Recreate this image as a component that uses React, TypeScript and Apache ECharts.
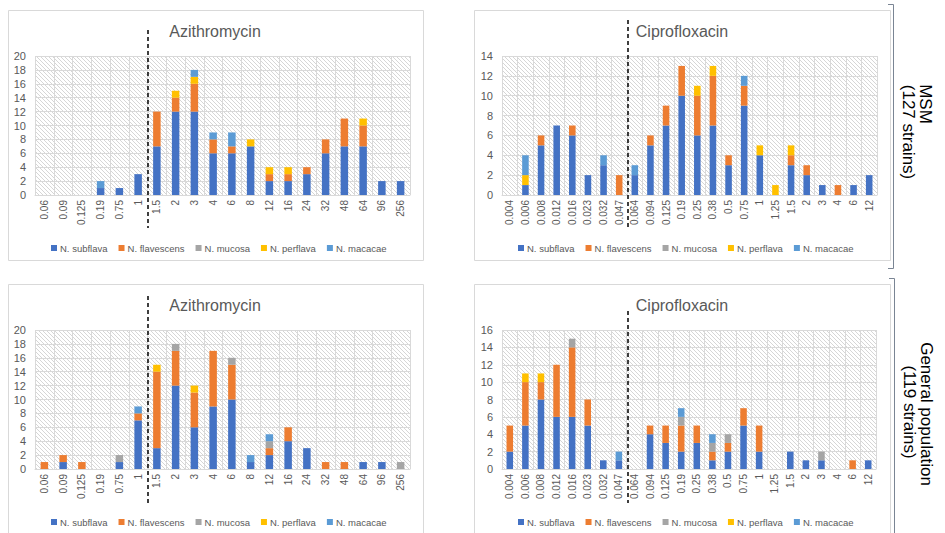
import React, { useEffect, useRef } from "react";
import * as echarts from "echarts";

const azCats = ["0.06","0.09","0.125","0.19","0.75","1","1.5","2","3","4","6","8","12","16","24","32","48","64","96","256"];
const ciCats = ["0.004","0.006","0.008","0.012","0.016","0.023","0.032","0.047","0.064","0.094","0.125","0.19","0.25","0.38","0.5","0.75","1","1.25","1.5","2","3","4","6","12"];

const species = ["N. subflava", "N. flavescens", "N. mucosa", "N. perflava", "N. macacae"];
const colors = ["#4472C4", "#ED7D31", "#A5A5A5", "#FFC000", "#5B9BD5"];

// Azithromycin, MSM
const azMsmSubflava   = [0,0,0,1,1,3,7,12,12,6,6,7,2,2,3,6,7,7,2,2];
const azMsmFlavescens = [0,0,0,0,0,0,5,2,4,2,1,0,1,1,1,2,4,3,0,0];
const azMsmMucosa     = [0,0,0,0,0,0,0,0,0,0,0,0,0,0,0,0,0,0,0,0];
const azMsmPerflava   = [0,0,0,0,0,0,0,1,1,0,0,1,1,1,0,0,0,1,0,0];
const azMsmMacacae    = [0,0,0,1,0,0,0,0,1,1,2,0,0,0,0,0,0,0,0,0];

// Ciprofloxacin, MSM
const ciMsmSubflava   = [0,1,5,7,6,2,3,0,2,5,7,10,6,7,3,9,4,0,3,2,1,0,1,2];
const ciMsmFlavescens = [0,0,1,0,1,0,0,2,0,1,2,3,4,5,1,2,0,0,1,1,0,1,0,0];
const ciMsmMucosa     = [0,0,0,0,0,0,0,0,0,0,0,0,0,0,0,0,0,0,0,0,0,0,0,0];
const ciMsmPerflava   = [0,1,0,0,0,0,0,0,0,0,0,0,1,1,0,0,1,1,1,0,0,0,0,0];
const ciMsmMacacae    = [0,2,0,0,0,0,1,0,1,0,0,0,0,0,0,1,0,0,0,0,0,0,0,0];

// Azithromycin, general population
const azGenSubflava   = [0,1,0,0,1,7,3,12,6,9,10,1,2,4,3,0,0,1,1,0];
const azGenFlavescens = [1,1,1,0,0,1,11,5,5,8,5,0,1,2,0,1,1,0,0,0];
const azGenMucosa     = [0,0,0,0,1,0,0,1,0,0,1,0,1,0,0,0,0,0,0,1];
const azGenPerflava   = [0,0,0,0,0,0,1,0,1,0,0,0,0,0,0,0,0,0,0,0];
const azGenMacacae    = [0,0,0,0,0,1,0,0,0,0,0,1,1,0,0,0,0,0,0,0];

// Ciprofloxacin, general population
const ciGenSubflava   = [2,5,8,6,6,5,1,1,0,4,3,2,3,1,2,5,2,0,2,1,1,0,0,1];
const ciGenFlavescens = [3,5,2,6,8,3,0,0,0,1,2,3,2,1,1,2,3,0,0,0,0,0,1,0];
const ciGenMucosa     = [0,0,0,0,1,0,0,0,0,0,0,1,0,1,1,0,0,0,0,0,1,0,0,0];
const ciGenPerflava   = [0,1,1,0,0,0,0,0,0,0,0,0,0,0,0,0,0,0,0,0,0,0,0,0];
const ciGenMacacae    = [0,0,0,0,0,0,0,1,0,0,0,1,0,1,0,0,0,0,0,0,0,0,0,0];

const yMax = [20, 14, 20, 16];
const titles = ["Azithromycin", "Ciprofloxacin", "Azithromycin", "Ciprofloxacin"];

const FONT = "Liberation Sans";
const GREY = "#595959";
const GRID_LINE = "#d9d9d9";

function makePattern() {
  const c = document.createElement("canvas");
  c.width = 4;
  c.height = 4;
  const ctx = c.getContext("2d")!;
  ctx.fillStyle = "#ffffff";
  ctx.fillRect(0, 0, 4, 4);
  ctx.fillStyle = "#d6d6d6";
  for (let i = 0; i < 4; i++) ctx.fillRect(i, i, 1, 1);
  return { image: c, repeat: "repeat" };
}

export default function App() {
  const ref = useRef<HTMLDivElement>(null);
  useEffect(() => {
    if (!ref.current) return;
    const chart = echarts.init(ref.current, null, { renderer: "svg" });
    const pattern: any = makePattern();

    const panels = [
      { cats: azCats, data: [azMsmSubflava, azMsmFlavescens, azMsmMucosa, azMsmPerflava, azMsmMacacae] },
      { cats: ciCats, data: [ciMsmSubflava, ciMsmFlavescens, ciMsmMucosa, ciMsmPerflava, ciMsmMacacae] },
      { cats: azCats, data: [azGenSubflava, azGenFlavescens, azGenMucosa, azGenPerflava, azGenMacacae] },
      { cats: ciCats, data: [ciGenSubflava, ciGenFlavescens, ciGenMucosa, ciGenPerflava, ciGenMacacae] },
    ];
    const gridPos = [
      { left: 35, top: 56, width: 375, height: 139 },
      { left: 502, top: 56, width: 375, height: 139 },
      { left: 35, top: 330, width: 375, height: 139 },
      { left: 502, top: 330, width: 374, height: 139 },
    ];
    const legendPos = [
      { left: 46, top: 238 },
      { left: 513, top: 238 },
      { left: 46, top: 512 },
      { left: 513, top: 512 },
    ];

    const grid = gridPos.map((g) => ({ ...g, show: true, backgroundColor: pattern, borderWidth: 0 }));
    const xAxis = panels.map((p, i) => ({
      type: "category",
      gridIndex: i,
      data: p.cats,
      axisLine: { lineStyle: { color: GRID_LINE } },
      axisTick: { show: false },
      axisLabel: { rotate: 90, fontSize: 10, color: GREY, fontFamily: FONT, margin: 5, interval: 0 },
      splitLine: { show: true, interval: 0, lineStyle: { color: GRID_LINE } },
    }));
    const yAxis = panels.map((p, i) => ({
      type: "value",
      gridIndex: i,
      min: 0,
      max: yMax[i],
      interval: 2,
      axisLine: { show: false },
      axisTick: { show: false },
      axisLabel: { fontSize: 11, color: GREY, fontFamily: FONT, margin: 9 },
      splitLine: { lineStyle: { color: GRID_LINE } },
    }));
    const series: any[] = [];
    panels.forEach((p, i) => {
      p.data.forEach((d, k) => {
        series.push({
          type: "bar",
          name: species[k],
          xAxisIndex: i,
          yAxisIndex: i,
          stack: "s" + i,
          data: d,
          barWidth: i % 2 === 0 ? "40%" : "42%",
          itemStyle: { color: colors[k] },
        });
      });
    });
    const legend = legendPos.map((l) => ({
      ...l,
      data: species,
      icon: "rect",
      itemWidth: 6,
      itemHeight: 6,
      itemGap: 11,
      textStyle: { fontSize: 9.5, color: GREY, fontFamily: FONT, padding: [0, 0, 0, -2] },
      selectedMode: false,
    }));

    const boxes = [
      { x: 8.5, y: 10.5, w: 415, h: 250 },
      { x: 474.5, y: 10.5, w: 416, h: 250 },
      { x: 8.5, y: 284.5, w: 415, h: 260 },
      { x: 474.5, y: 284.5, w: 416, h: 260 },
    ];
    const titleCenters = [
      { x: 215, y: 31 },
      { x: 682, y: 31 },
      { x: 215, y: 305 },
      { x: 682, y: 305 },
    ];
    const dashes = [
      { x: 148, y1: 30, y2: 228 },
      { x: 628, y1: 20, y2: 228 },
      { x: 148, y1: 296, y2: 503 },
      { x: 628, y1: 311, y2: 503 },
    ];

    const graphic: any[] = [];
    boxes.forEach((b) =>
      graphic.push({
        type: "rect",
        z: -1,
        shape: { x: b.x, y: b.y, width: b.w, height: b.h },
        style: { fill: "none", stroke: GRID_LINE, lineWidth: 1 },
        silent: true,
      })
    );
    titleCenters.forEach((t, i) =>
      graphic.push({
        type: "text",
        x: t.x,
        y: t.y,
        z: 10,
        style: { text: titles[i], fontSize: 16, fill: GREY, fontFamily: FONT, textAlign: "center", textVerticalAlign: "middle" },
      })
    );
    dashes.forEach((d) =>
      graphic.push({
        type: "line",
        z: 100,
        shape: { x1: d.x, y1: d.y1, x2: d.x, y2: d.y2 },
        style: { stroke: "#000", lineWidth: 1.5, lineDash: [4, 3] },
      })
    );
    graphic.push({
      type: "polyline",
      z: 10,
      shape: { points: [[888, 4.5], [893.5, 4.5], [893.5, 268.5], [888, 268.5]] },
      style: { stroke: "#7a8594", lineWidth: 1, fill: "none" },
    });
    graphic.push({
      type: "polyline",
      z: 10,
      shape: { points: [[889, 278.5], [894.5, 278.5], [894.5, 540]] },
      style: { stroke: "#7a8594", lineWidth: 1, fill: "none" },
    });
    const sideText = (text: string, x: number, y: number) => ({
      type: "text",
      x,
      y,
      rotation: -Math.PI / 2,
      style: { text, fontSize: 17, fill: "#000", fontFamily: FONT, textAlign: "center", textVerticalAlign: "middle" },
    });
    graphic.push(sideText("MSM", 925, 104));
    graphic.push(sideText("(127 strains)", 908, 132));
    graphic.push(sideText("General population", 926, 414));
    graphic.push(sideText("(119 strains)", 909, 412));

    chart.setOption({
      animation: false,
      backgroundColor: "#ffffff",
      grid,
      xAxis,
      yAxis,
      series,
      legend,
      graphic,
    } as any);
    return () => chart.dispose();
  }, []);
  return (
    <div
      ref={ref}
      style={{ position: "fixed", left: 0, top: 0, width: 945, height: 533 }}
    />
  );
}
